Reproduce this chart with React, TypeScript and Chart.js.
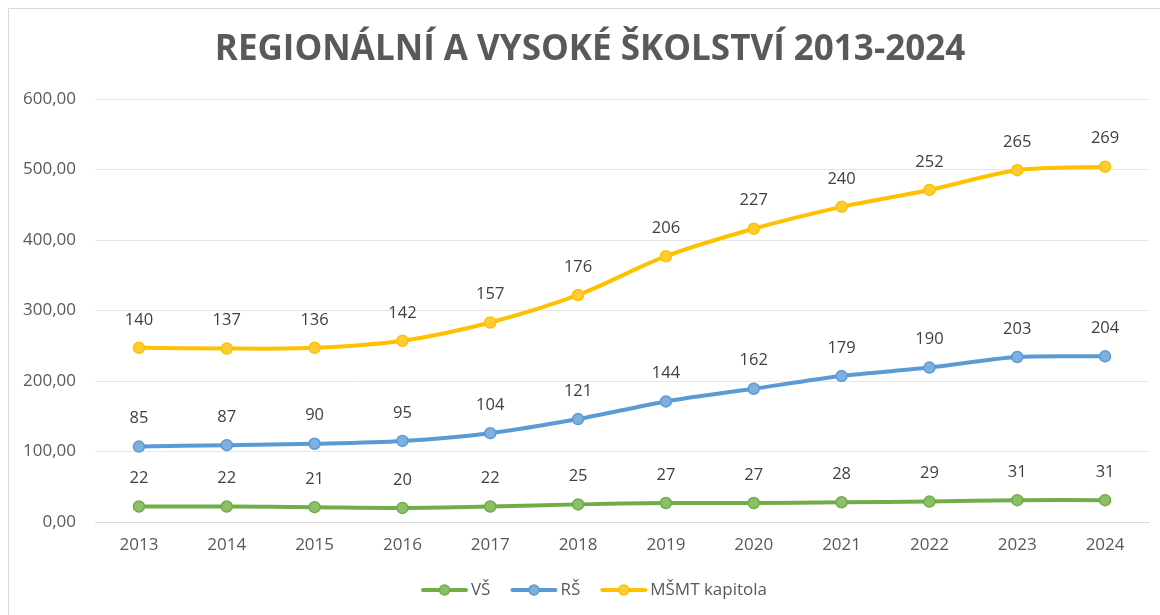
import React, { useEffect, useRef } from 'react';
import { Chart, registerables } from 'chart.js';

Chart.register(...registerables);

const TITLE = 'REGIONÁLNÍ A VYSOKÉ ŠKOLSTVÍ 2013-2024';
const years = ['2013', '2014', '2015', '2016', '2017', '2018', '2019', '2020', '2021', '2022', '2023', '2024'];
const vsValues = [22, 22, 21, 20, 22, 25, 27, 27, 28, 29, 31, 31];
const rsValues = [85, 87, 90, 95, 104, 121, 144, 162, 179, 190, 203, 204];
const msmtValues = [140, 137, 136, 142, 157, 176, 206, 227, 240, 252, 265, 269];
const seriesNames = ['VŠ', 'RŠ', 'MŠMT kapitola'];
const seriesColors = ['#70AD47', '#5B9BD5', '#FFC000'];
const pointFills = ['#8CC068', '#7DB0DE', '#FFCD33'];
const yMin = 0;
const yMax = 600;
const yStep = 100;

const FONT = '"Open Sans", "DejaVu Sans", sans-serif';

const framePlugin = {
  id: 'frame',
  beforeDraw(chart: any) {
    const ctx = chart.ctx;
    ctx.save();
    ctx.fillStyle = '#ffffff';
    ctx.fillRect(0, 0, chart.width, chart.height);
    ctx.strokeStyle = '#d9d9d9';
    ctx.lineWidth = 1;
    ctx.beginPath();
    ctx.moveTo(8.5, chart.height);
    ctx.lineTo(8.5, 8.5);
    ctx.lineTo(chart.width, 8.5);
    ctx.stroke();
    ctx.restore();
  },
};

const titlePlugin = {
  id: 'customTitle',
  afterDraw(chart: any) {
    const ctx = chart.ctx;
    ctx.save();
    ctx.font = `bold 35px ${FONT}`;
    ctx.fillStyle = '#595959';
    ctx.textAlign = 'center';
    ctx.textBaseline = 'middle';
    ctx.fillText(TITLE, 590, 50);
    ctx.restore();
  },
};

const dataLabelPlugin = {
  id: 'dataLabels',
  afterDatasetsDraw(chart: any) {
    const ctx = chart.ctx;
    ctx.save();
    ctx.font = `16.5px ${FONT}`;
    ctx.fillStyle = '#404040';
    ctx.textAlign = 'center';
    ctx.textBaseline = 'middle';
    chart.data.datasets.forEach((ds: any, i: number) => {
      const meta = chart.getDatasetMeta(i);
      meta.data.forEach((pt: any, j: number) => {
        ctx.fillText(String(ds.data[j]), pt.x, pt.y - 28);
      });
    });
    ctx.restore();
  },
};

const legendPlugin = {
  id: 'customLegend',
  afterDraw(chart: any) {
    const ctx = chart.ctx;
    ctx.save();
    ctx.font = `17px ${FONT}`;
    ctx.textBaseline = 'middle';
    ctx.textAlign = 'left';
    const lineLen = 43;
    const gap = 5;
    const itemGap = 22;
    const widths = seriesNames.map((n) => lineLen + gap + ctx.measureText(n).width);
    const total = widths.reduce((a, b) => a + b, 0) + itemGap * (seriesNames.length - 1);
    let x = 595 - total / 2;
    const y = 590;
    seriesNames.forEach((name, i) => {
      ctx.strokeStyle = seriesColors[i];
      ctx.lineWidth = 4;
      ctx.lineCap = 'round';
      ctx.beginPath();
      ctx.moveTo(x, y);
      ctx.lineTo(x + lineLen, y);
      ctx.stroke();
      ctx.beginPath();
      ctx.arc(x + lineLen / 2, y, 5, 0, Math.PI * 2);
      ctx.fillStyle = pointFills[i];
      ctx.fill();
      ctx.lineWidth = 1.5;
      ctx.stroke();
      ctx.fillStyle = '#595959';
      ctx.fillText(name, x + lineLen + gap, y);
      x += widths[i] + itemGap;
    });
    ctx.restore();
  },
};

export default function App() {
  const canvasRef = useRef<HTMLCanvasElement | null>(null);

  useEffect(() => {
    document.body.style.margin = '0';
    const canvas = canvasRef.current;
    if (!canvas) return;
    const valueSets = [vsValues, rsValues, msmtValues];
    const chart = new Chart(canvas, {
      type: 'line',
      data: {
        labels: years,
        datasets: valueSets.map((vals, i) => ({
          label: seriesNames[i],
          data: vals,
          borderColor: seriesColors[i],
          backgroundColor: pointFills[i],
          pointBackgroundColor: pointFills[i],
          pointBorderColor: seriesColors[i],
          pointBorderWidth: 1.5,
          pointRadius: 5.5,
          borderWidth: 4,
          tension: 0.3,
          fill: false,
        })),
      },
      options: {
        responsive: false,
        animation: false,
        devicePixelRatio: 1,
        layout: { padding: { top: 99, left: 0, right: 11, bottom: 0 } },
        plugins: {
          legend: { display: false },
          title: { display: false },
          tooltip: { enabled: false },
        },
        scales: {
          x: {
            offset: true,
            grid: { display: false, drawTicks: false },
            border: { display: true, color: '#d9d9d9', width: 1 },
            ticks: { color: '#595959', font: { family: FONT, size: 17 }, padding: 13 },
            afterFit: (s: any) => { s.height = 93; },
          },
          y: {
            stacked: true,
            min: yMin,
            max: yMax,
            grid: { color: '#e6e6e6', drawTicks: false },
            border: { display: false },
            ticks: {
              stepSize: yStep,
              color: '#595959',
              font: { family: FONT, size: 17 },
              padding: 19,
              callback: (v: any) => Number(v).toFixed(2).replace('.', ','),
            },
            afterFit: (s: any) => { s.width = 95; },
          },
        },
      },
      plugins: [framePlugin, titlePlugin, dataLabelPlugin, legendPlugin],
    });
    return () => chart.destroy();
  }, []);

  return (
    <div style={{ width: 1160, height: 615 }}>
      <canvas ref={canvasRef} width={1160} height={615} style={{ display: 'block' }} />
    </div>
  );
}
